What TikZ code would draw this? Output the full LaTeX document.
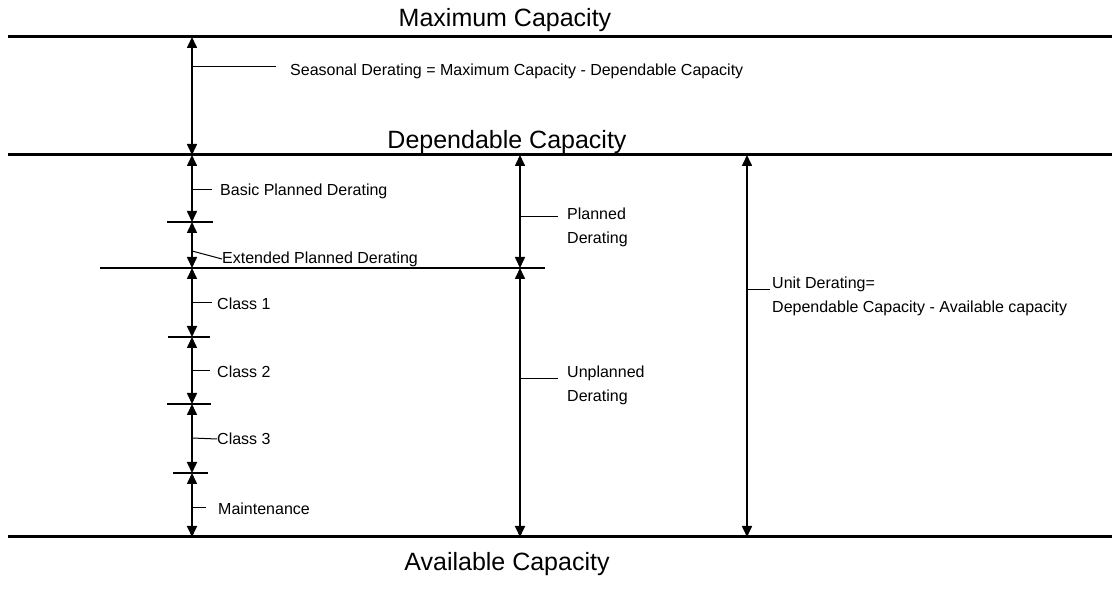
\documentclass[tikz,border=0pt]{standalone}
\usepackage{fontspec}
\setmainfont{Liberation Sans}
\usetikzlibrary{arrows.meta}
\tikzset{
	level/.style={line width=3pt},
	span/.style={line width=1.6pt, {Triangle[length=11pt,width=10pt]}-{Triangle[length=11pt,width=10pt]}},
	tick/.style={line width=1.2pt},
	leader/.style={line width=1pt},
	big/.style={font=\fontsize{25}{28}\selectfont},
	lbl/.style={font=\fontsize{16}{24}\selectfont, anchor=west, inner sep=0pt, align=left}
}

\begin{document}
\begin{tikzpicture}[x=1pt, y=-1pt]
			%%%%% START %%%%%
			\useasboundingbox (0, 0) rectangle (1112, 593);
			
			% capacity levels
			\coordinate (maxL) at (8, 37);     \coordinate (maxR) at (1112, 37);
			\coordinate (depL) at (8, 155);    \coordinate (depR) at (1112, 155);
			\coordinate (avaL) at (8, 537);    \coordinate (avaR) at (1112, 537);
			\draw[level] (maxL) -- (maxR);
			\draw[level] (depL) -- (depR);
			\draw[level] (avaL) -- (avaR);
			\node[big] (maxcap) at (505, 20) {Maximum Capacity};
			\node[big] (depcap) at (507, 142) {Dependable Capacity};
			\node[big] (avacap) at (507, 564) {Available Capacity};
			
			% seasonal derating
			\coordinate (s0) at (192, 37);  \coordinate (s1) at (192, 155);
			\draw[span] (s0) -- (s1);
			\node[lbl] (seas) at (290, 71) {Seasonal Derating = Maximum Capacity - Dependable Capacity};
			\draw[leader] (192, 67) -- (276, 67);
			
			% left column
			\coordinate (a0) at (192, 155);
			\coordinate (a1) at (192, 222);
			\coordinate (a2) at (192, 268);
			\coordinate (a3) at (192, 337);
			\coordinate (a4) at (192, 404);
			\coordinate (a5) at (192, 473);
			\coordinate (a6) at (192, 537);
			\draw[span] (a0) -- (a1);
			\draw[span] (a1) -- (a2);
			\draw[span] (a2) -- (a3);
			\draw[span] (a3) -- (a4);
			\draw[span] (a4) -- (a5);
			\draw[span] (a5) -- (a6);
			
			\draw[tick] (167, 222) -- (213, 222);
			\draw[tick] (100, 268) -- (545, 268);
			\draw[tick] (168, 337) -- (210, 337);
			\draw[tick] (167, 404) -- (211, 404);
			\draw[tick] (173, 473) -- (208, 473);
			
			\node[lbl] (basic) at (220, 191) {Basic Planned Derating};
			\node[lbl] (ext) at (222, 259) {Extended Planned Derating};
			\node[lbl] (c1) at (217, 304) {Class 1};
			\node[lbl] (c2) at (217, 372) {Class 2};
			\node[lbl] (c3) at (217, 439) {Class 3};
			\node[lbl] (maint) at (218, 509) {Maintenance};
			\draw[leader] (192, 190) -- (212, 190);
			\draw[leader] (192, 251) -- (ext.west);
			\draw[leader] (192, 303) -- (212, 303);
			\draw[leader] (192, 371) -- (210, 371);
			\draw[leader] (192, 438) -- (c3.west);
			\draw[leader] (192, 508) -- (206, 508);
			
			% middle column
			\coordinate (b0) at (520, 155);
			\coordinate (b1) at (520, 268);
			\coordinate (b2) at (520, 537);
			\draw[span] (b0) -- (b1);
			\draw[span] (b1) -- (b2);
			\node[lbl] (plan) at (567, 227) {Planned\\Derating};
			\node[lbl] (unplan) at (567, 385) {Unplanned\\Derating};
			\draw[leader] (520, 217) -- (558, 217);
			\draw[leader] (520, 379) -- (558, 379);
			
			% right column
			\coordinate (u0) at (747, 155);
			\coordinate (u1) at (747, 537);
			\draw[span] (u0) -- (u1);
			\node[lbl] (unit) at (772, 296) {Unit Derating=\\Dependable Capacity - Available capacity};
			\draw[leader] (747, 290) -- (770, 290);
			
			%%%%% END %%%%%
		\end{tikzpicture}
\end{document}
